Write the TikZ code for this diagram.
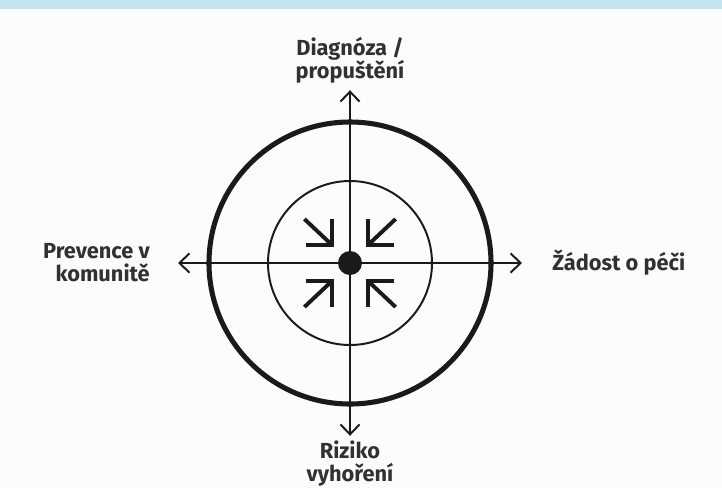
\documentclass[tikz,border=0pt]{standalone}
\usepackage{fontspec}
\setmainfont{Fira Sans}
\usepackage{xcolor}
\usetikzlibrary{positioning,arrows.meta}

\definecolor{bandblue}{HTML}{C2E4EF}
\definecolor{ink}{HTML}{1A1A1A}
\definecolor{paper}{HTML}{FCFCFC}

\begin{document}
\begin{tikzpicture}[
    axis/.style={-{Straight Barb[length=0.25cm,width=0.48cm]}, line width=1.4pt, draw=ink},
    pointer/.style={line width=2.8pt, draw=ink},
    label/.style={font=\bfseries\fontsize{15.5}{16.5}\selectfont, text=ink!90, inner sep=0pt}
]

% page and top band
\fill[paper] (-8.75,-5.625) rectangle (9.3,6.575);
\fill[bandblue] (-8.75,6.35) rectangle (9.3,6.575);
\useasboundingbox (-8.75,-5.625) rectangle (9.3,6.575);

% circles
\node[circle, draw=ink, line width=3.6pt, minimum size=7.05cm] (outer) at (0,0) {};
\node[circle, draw=ink, line width=1.4pt, minimum size=4.1cm] (inner) at (0,0) {};

% axis ends
\coordinate (up) at (0,4.32);
\coordinate (down) at (0,-4.32);
\coordinate (west) at (-4.3,0);
\coordinate (east) at (4.3,0);

\draw[axis] (0,0) -- (up);
\draw[axis] (0,0) -- (down);
\draw[axis] (0,0) -- (west);
\draw[axis] (0,0) -- (east);

% centre dot
\node[circle, fill=ink, minimum size=0.6cm, inner sep=0pt] (dot) at (0,0) {};

% arrows pointing in
\foreach \sx/\sy in {1/1,1/-1,-1/1,-1/-1} {
  \draw[pointer] (\sx*1.14,\sy*1.1) -- (\sx*0.45,\sy*0.45);
  \draw[pointer, line join=miter] (\sx*0.45,\sy*1.1) -- (\sx*0.45,\sy*0.45) -- (\sx*1.1,\sy*0.45);
}

% labels
\node[label, align=center, above=0.17cm of up] (diag) {Diagnóza /\\propuštění};
\node[label, align=center, below=0.12cm of down] (risk) {Riziko\\vyhoření};
\node[label, align=right, left=0.7cm of west] (prev) {Prevence v\\komunitě};
\node[label, right=0.75cm of east] (care) {Žádost o péči};

\end{tikzpicture}
\end{document}
